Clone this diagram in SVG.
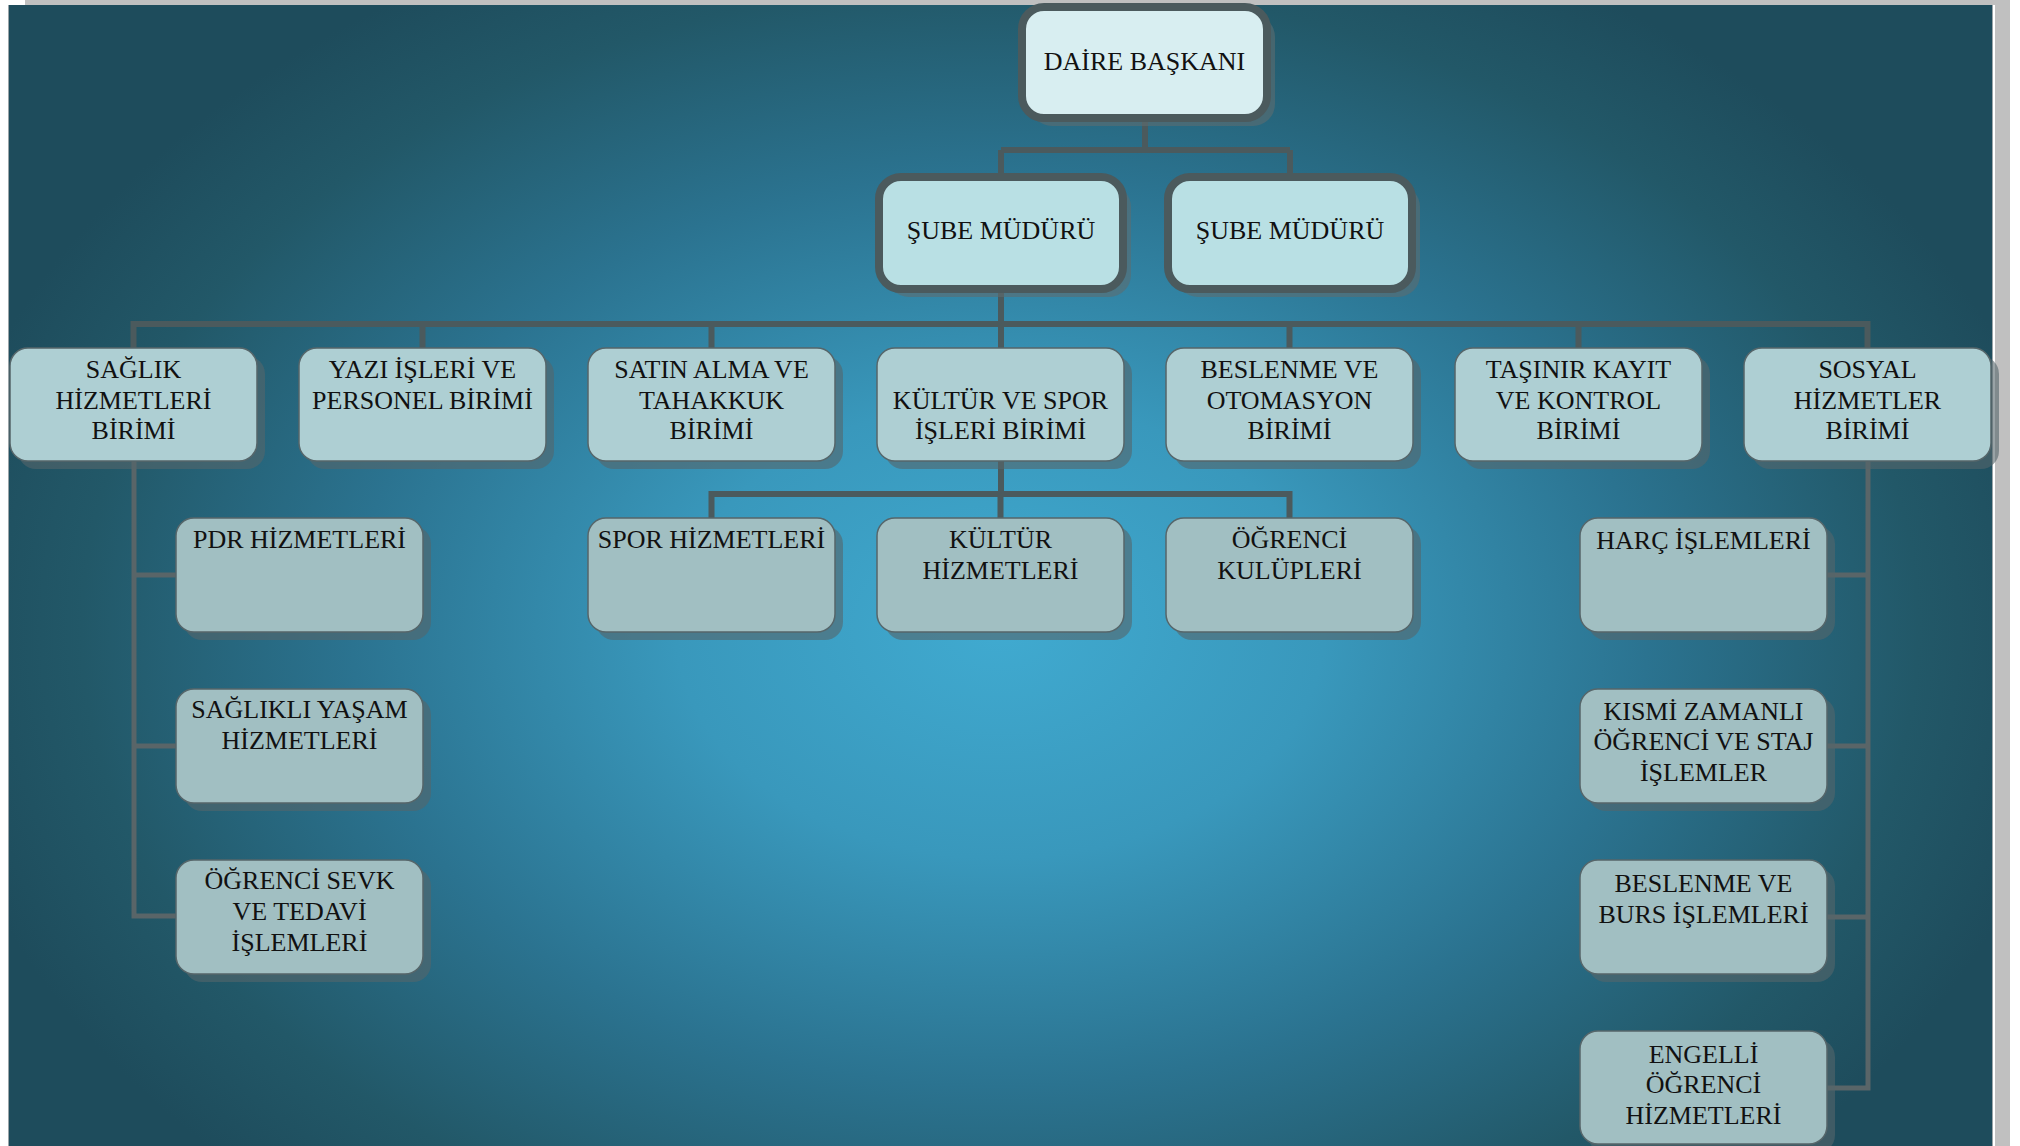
<svg xmlns="http://www.w3.org/2000/svg" width="2020" height="1146" viewBox="0 0 2020 1146">
<defs>
<radialGradient id="bg" gradientUnits="userSpaceOnUse" cx="0" cy="0" r="1" gradientTransform="translate(1000 630) scale(1080 760)">
<stop offset="0" stop-color="#40aad0"/>
<stop offset="0.3" stop-color="#3998bc"/>
<stop offset="0.6" stop-color="#2b7390"/>
<stop offset="0.85" stop-color="#225868"/>
<stop offset="1" stop-color="#1e4c5c"/>
</radialGradient>
<style>
.t{font-family:"Liberation Serif","Times New Roman",serif;font-size:26px;fill:#111;text-anchor:middle}
.top{fill:#d8eef1;stroke:#4b5a5d;stroke-width:8}
.sube{fill:#b9e0e4;stroke:#4b5a5d;stroke-width:8}
.shT{fill:#5d6c70;opacity:0.6}
.b2{fill:#aecfd3;stroke:#56666a;stroke-width:1.5}
.b3{fill:#a1bfc2;stroke:#56666a;stroke-width:1.5}
.sh{fill:#55666b;opacity:0.6}
.c{fill:none;stroke:#4b5a5d;stroke-width:6}
.cs{fill:none;stroke:#596568;stroke-width:5}
</style>
</defs>
<rect x="0" y="0" width="2020" height="1146" fill="#ffffff"/>
<rect x="25" y="0" width="1985" height="5" fill="#c0c0c0"/>
<rect x="1995" y="0" width="15" height="1146" fill="#c0c0c0"/>
<rect x="8" y="5" width="1985" height="1141" fill="#9aa4a8"/>
<rect x="9" y="5" width="1983" height="1141" fill="url(#bg)"/>

<g id="connectors">
<path class="c" d="M1145 118 V150 M1001 150 H1290 M1001 150 V177 M1290 150 V177"/>
<path class="c" d="M1001 289 V352 M133.5 324 H1867.5 M133.5 321 V352 M422.5 324 V352 M711.5 324 V352 M1289.5 324 V352 M1578.5 324 V352 M1867.5 321 V352"/>
<path class="c" d="M1001 458 V494 M711.5 494 H1289.5 M711.5 491 V522 M1000.5 494 V522 M1289.5 491 V522"/>
<path class="cs" d="M134 458 V918.5 M134 575 H180 M134 746 H180 M134 916 H180"/>
<path class="cs" d="M1868 458 V1090.5 M1823 575 H1868 M1823 746 H1868 M1823 917 H1868 M1823 1088 H1868"/>
</g>

<g id="daire-baskani">
<rect class="shT" x="1030" y="15" width="245" height="111" rx="22"/>
<rect class="top" x="1022" y="7" width="245" height="111" rx="22"/>
<text class="t" x="1144.5" y="70">DAİRE BAŞKANI</text>
</g>
<g id="sube-muduru-1">
<rect class="shT" x="887" y="185" width="244" height="112" rx="22"/>
<rect class="sube" x="879" y="177" width="244" height="112" rx="22"/>
<text class="t" x="1001" y="239">ŞUBE MÜDÜRÜ</text>
</g>
<g id="sube-muduru-2">
<rect class="shT" x="1176" y="185" width="244" height="112" rx="22"/>
<rect class="sube" x="1168" y="177" width="244" height="112" rx="22"/>
<text class="t" x="1290" y="239">ŞUBE MÜDÜRÜ</text>
</g>

<g id="saglik-hizmetleri-birimi">
<rect class="sh" x="18" y="356" width="247" height="113" rx="18"/>
<rect class="b2" x="10" y="348" width="247" height="113" rx="18"/>
<text class="t" x="133.5" y="378">SAĞLIK</text>
<text class="t" x="133.5" y="409">HİZMETLERİ</text>
<text class="t" x="133.5" y="439">BİRİMİ</text>
</g>
<g id="yazi-isleri-personel-birimi">
<rect class="sh" x="307" y="356" width="247" height="113" rx="18"/>
<rect class="b2" x="299" y="348" width="247" height="113" rx="18"/>
<text class="t" x="422.5" y="378">YAZI İŞLERİ VE</text>
<text class="t" x="422.5" y="409">PERSONEL BİRİMİ</text>
</g>
<g id="satin-alma-tahakkuk-birimi">
<rect class="sh" x="596" y="356" width="247" height="113" rx="18"/>
<rect class="b2" x="588" y="348" width="247" height="113" rx="18"/>
<text class="t" x="711.5" y="378">SATIN ALMA VE</text>
<text class="t" x="711.5" y="409">TAHAKKUK</text>
<text class="t" x="711.5" y="439">BİRİMİ</text>
</g>
<g id="kultur-spor-isleri-birimi">
<rect class="sh" x="885" y="356" width="247" height="113" rx="18"/>
<rect class="b2" x="877" y="348" width="247" height="113" rx="18"/>
<text class="t" x="1000.5" y="409">KÜLTÜR VE SPOR</text>
<text class="t" x="1000.5" y="439">İŞLERİ BİRİMİ</text>
</g>
<g id="beslenme-otomasyon-birimi">
<rect class="sh" x="1174" y="356" width="247" height="113" rx="18"/>
<rect class="b2" x="1166" y="348" width="247" height="113" rx="18"/>
<text class="t" x="1289.5" y="378">BESLENME VE</text>
<text class="t" x="1289.5" y="409">OTOMASYON</text>
<text class="t" x="1289.5" y="439">BİRİMİ</text>
</g>
<g id="tasinir-kayit-kontrol-birimi">
<rect class="sh" x="1463" y="356" width="247" height="113" rx="18"/>
<rect class="b2" x="1455" y="348" width="247" height="113" rx="18"/>
<text class="t" x="1578.5" y="378">TAŞINIR KAYIT</text>
<text class="t" x="1578.5" y="409">VE KONTROL</text>
<text class="t" x="1578.5" y="439">BİRİMİ</text>
</g>
<g id="sosyal-hizmetler-birimi">
<rect class="sh" x="1752" y="356" width="247" height="113" rx="18"/>
<rect class="b2" x="1744" y="348" width="247" height="113" rx="18"/>
<text class="t" x="1867.5" y="378">SOSYAL</text>
<text class="t" x="1867.5" y="409">HİZMETLER</text>
<text class="t" x="1867.5" y="439">BİRİMİ</text>
</g>

<g id="spor-hizmetleri">
<rect class="sh" x="596" y="526" width="247" height="114" rx="18"/>
<rect class="b3" x="588" y="518" width="247" height="114" rx="18"/>
<text class="t" x="711.5" y="548">SPOR HİZMETLERİ</text>
</g>
<g id="kultur-hizmetleri">
<rect class="sh" x="885" y="526" width="247" height="114" rx="18"/>
<rect class="b3" x="877" y="518" width="247" height="114" rx="18"/>
<text class="t" x="1000.5" y="548">KÜLTÜR</text>
<text class="t" x="1000.5" y="579">HİZMETLERİ</text>
</g>
<g id="ogrenci-kulupleri">
<rect class="sh" x="1174" y="526" width="247" height="114" rx="18"/>
<rect class="b3" x="1166" y="518" width="247" height="114" rx="18"/>
<text class="t" x="1289.5" y="548">ÖĞRENCİ</text>
<text class="t" x="1289.5" y="579">KULÜPLERİ</text>
</g>

<g id="pdr-hizmetleri">
<rect class="sh" x="184" y="526" width="247" height="114" rx="18"/>
<rect class="b3" x="176" y="518" width="247" height="114" rx="18"/>
<text class="t" x="299.5" y="548">PDR HİZMETLERİ</text>
</g>
<g id="saglikli-yasam-hizmetleri">
<rect class="sh" x="184" y="697" width="247" height="114" rx="18"/>
<rect class="b3" x="176" y="689" width="247" height="114" rx="18"/>
<text class="t" x="299.5" y="718">SAĞLIKLI YAŞAM</text>
<text class="t" x="299.5" y="749">HİZMETLERİ</text>
</g>
<g id="ogrenci-sevk-tedavi-islemleri">
<rect class="sh" x="184" y="868" width="247" height="114" rx="18"/>
<rect class="b3" x="176" y="860" width="247" height="114" rx="18"/>
<text class="t" x="299.5" y="889">ÖĞRENCİ SEVK</text>
<text class="t" x="299.5" y="920">VE TEDAVİ</text>
<text class="t" x="299.5" y="951">İŞLEMLERİ</text>
</g>

<g id="harc-islemleri">
<rect class="sh" x="1588" y="526" width="247" height="114" rx="18"/>
<rect class="b3" x="1580" y="518" width="247" height="114" rx="18"/>
<text class="t" x="1703.5" y="549">HARÇ İŞLEMLERİ</text>
</g>
<g id="kismi-zamanli-ogrenci-staj">
<rect class="sh" x="1588" y="697" width="247" height="114" rx="18"/>
<rect class="b3" x="1580" y="689" width="247" height="114" rx="18"/>
<text class="t" x="1703.5" y="720">KISMİ ZAMANLI</text>
<text class="t" x="1703.5" y="750">ÖĞRENCİ VE STAJ</text>
<text class="t" x="1703.5" y="781">İŞLEMLER</text>
</g>
<g id="beslenme-burs-islemleri">
<rect class="sh" x="1588" y="868" width="247" height="114" rx="18"/>
<rect class="b3" x="1580" y="860" width="247" height="114" rx="18"/>
<text class="t" x="1703.5" y="892">BESLENME VE</text>
<text class="t" x="1703.5" y="923">BURS İŞLEMLERİ</text>
</g>
<g id="engelli-ogrenci-hizmetleri">
<rect class="sh" x="1588" y="1039" width="247" height="114" rx="18"/>
<rect class="b3" x="1580" y="1031" width="247" height="113" rx="18"/>
<text class="t" x="1703.5" y="1063">ENGELLİ</text>
<text class="t" x="1703.5" y="1093">ÖĞRENCİ</text>
<text class="t" x="1703.5" y="1124">HİZMETLERİ</text>
</g>
</svg>
